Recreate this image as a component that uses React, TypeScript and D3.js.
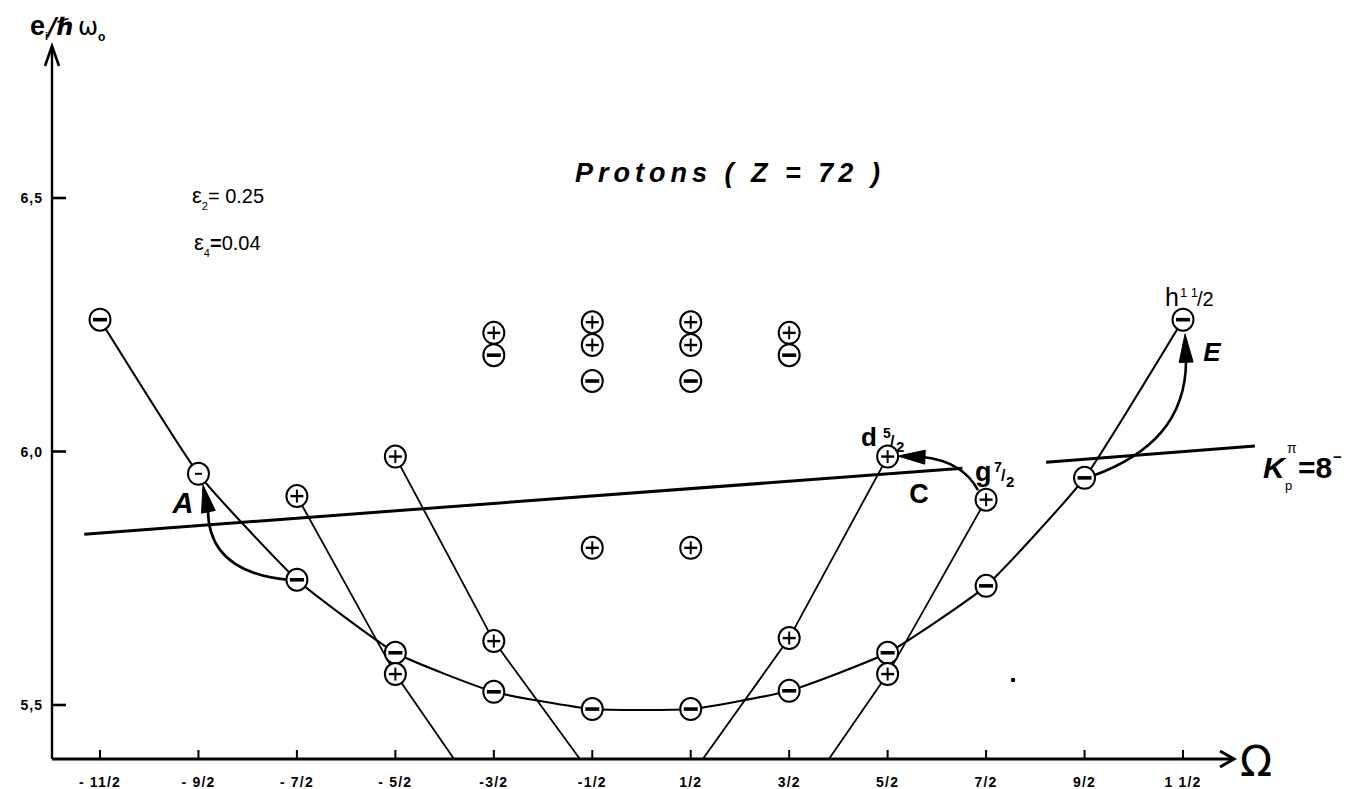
import React from "react";
import * as d3 from "d3";

// Ω ticks along the horizontal axis
const omegaTicks = [-5.5, -4.5, -3.5, -2.5, -1.5, -0.5, 0.5, 1.5, 2.5, 3.5, 4.5, 5.5];
const omegaTickLabels = ["- 11/2", "- 9/2", "- 7/2", "- 5/2", "-3/2", "-1/2", "1/2", "3/2", "5/2", "7/2", "9/2", "1 1/2"];

// energy ticks (units of ħω₀)
const energyTicks = [5.5, 6.0, 6.5];
const energyTickLabels = ["5,5", "6,0", "6,5"];

// h11/2 band, Ω = -11/2 … 11/2
const h112Omega = [-5.5, -4.5, -3.5, -2.5, -1.5, -0.5, 0.5, 1.5, 2.5, 3.5, 4.5, 5.5];
const h112Energy = [6.26, 5.956, 5.747, 5.603, 5.526, 5.492, 5.492, 5.528, 5.603, 5.735, 5.948, 6.26];
const h112Parity = ["-", "m", "-", "-", "-", "-", "-", "-", "-", "-", "-", "-"];

// g7/2 band, both signs of Ω (last point runs below the axis)
const g72LeftOmega = [-3.5, -2.5, -1.5];
const g72LeftEnergy = [5.912, 5.561, 5.28];
const g72RightOmega = [3.5, 2.5, 1.5];
const g72RightEnergy = [5.905, 5.561, 5.28];

// d5/2 band, both signs of Ω
const d52LeftOmega = [-2.5, -1.5, -0.5];
const d52LeftEnergy = [5.99, 5.626, 5.36];
const d52RightOmega = [2.5, 1.5, 0.5];
const d52RightEnergy = [5.99, 5.632, 5.36];

// levels drawn without connecting lines
const looseOmega = [-1.5, -1.5, -0.5, -0.5, -0.5, -0.5, 0.5, 0.5, 0.5, 0.5, 1.5, 1.5];
const looseEnergy = [6.234, 6.19, 6.255, 6.21, 6.139, 5.81, 6.255, 6.21, 6.139, 5.81, 6.234, 6.19];
const looseParity = ["+", "-", "+", "+", "-", "+", "+", "+", "-", "+", "+", "-"];

// K_p^π = 8⁻ line, drawn in two pieces around the g7/2 label
const kLineOmega = [[-5.66, 3.26], [4.11, 6.23]];
const kLineEnergy = [[5.837, 5.967], [5.979, 6.011]];

// curved transition arrows: cubic control points [Ω, e] and arrow tip
const arrowNames = ["A", "C", "E"];
const arrowPaths = [
  [[-3.591, 5.747], [-4.078, 5.756], [-4.403, 5.796], [-4.403, 5.885], [-4.454, 5.934]],
  [[3.418, 5.924], [3.316, 5.96], [3.133, 5.983], [2.859, 5.989], [2.605, 5.991]],
  [[4.586, 5.952], [5.165, 5.993], [5.531, 6.062], [5.531, 6.18], [5.521, 6.232]],
];

const W = 1351;
const H = 789;
const axisX = 52;
const axisY = 759;

const x = d3.scaleLinear().domain([-5.5, 5.5]).range([100, 1183]);
const y = d3.scaleLinear().domain([5.5, 6.5]).range([705, 198]);
const eFloor = y.invert(axisY);

const FONT = "'Liberation Sans', Arial, sans-serif";

function Marker({ cx, cy, sign }: { cx: number; cy: number; sign: string }) {
  return (
    <g transform={`translate(${cx},${cy})`}>
      <ellipse rx={10.5} ry={11} fill="#fff" stroke="#000" strokeWidth={2} />
      {sign === "+" && (
        <>
          <line x1={-6.5} x2={6.5} y1={0} y2={0} stroke="#000" strokeWidth={2.4} />
          <line x1={0} x2={0} y1={-6.5} y2={6.5} stroke="#000" strokeWidth={2} />
        </>
      )}
      {sign === "-" && <line x1={-7} x2={7} y1={0} y2={0} stroke="#000" strokeWidth={3.6} />}
      {sign === "m" && <line x1={-3.5} x2={3.5} y1={0} y2={0} stroke="#000" strokeWidth={2} />}
    </g>
  );
}

function Arrow({ pts }: { pts: number[][] }) {
  const p = pts.map(([o, e]) => [x(o), y(e)]);
  const [p0, p1, p2, p3, tip] = p;
  const d = `M${p0[0]},${p0[1]} C${p1[0]},${p1[1]} ${p2[0]},${p2[1]} ${p3[0]},${p3[1]}`;
  const dx = tip[0] - p3[0];
  const dy = tip[1] - p3[1];
  const len = Math.hypot(dx, dy);
  const ux = dx / len;
  const uy = dy / len;
  const half = 7;
  const bx = p3[0] - ux * 2;
  const by = p3[1] - uy * 2;
  const head = `M${tip[0]},${tip[1]} L${bx - uy * half},${by + ux * half} L${bx + uy * half},${by - ux * half} Z`;
  return (
    <g>
      <path d={d} fill="none" stroke="#000" strokeWidth={2.6} />
      <path d={head} fill="#000" stroke="#000" strokeWidth={1} strokeLinejoin="round" />
    </g>
  );
}

export default function App() {
  const straight = d3
    .line<number[]>()
    .x((d) => x(d[0]))
    .y((d) => y(d[1]));
  const smooth = d3
    .line<number[]>()
    .x((d) => x(d[0]))
    .y((d) => y(d[1]))
    .curve(d3.curveCardinal.tension(0.55));

  const zip = (a: number[], b: number[]) => a.map((v, i) => [v, b[i]]);
  const h112 = zip(h112Omega, h112Energy);
  const sideBands = [
    zip(g72LeftOmega, g72LeftEnergy),
    zip(g72RightOmega, g72RightEnergy),
    zip(d52LeftOmega, d52LeftEnergy),
    zip(d52RightOmega, d52RightEnergy),
  ];

  return (
    <svg
      width={W}
      height={H}
      viewBox={`0 0 ${W} ${H}`}
      style={{ position: "absolute", left: 0, top: 0, background: "#fff" }}
      fontFamily={FONT}
    >
      <defs>
        <clipPath id="plotArea">
          <rect x={axisX} y={0} width={W - axisX} height={axisY - 1} />
        </clipPath>
      </defs>
      <rect x={0} y={0} width={W} height={H} fill="#fff" />

      {/* title and deformation parameters */}
      <text x={730} y={182} textAnchor="middle" fontSize={27} fontStyle="italic" fontWeight={700} letterSpacing={5}>
        Protons ( Z = 72 )
      </text>
      <text x={192} y={203} fontSize={20}>
        <tspan fontSize={22}>ε</tspan>
        <tspan fontSize={11} dy={7}>2</tspan>
        <tspan dy={-7}>= 0.25</tspan>
      </text>
      <text x={194} y={250} fontSize={20}>
        <tspan fontSize={22}>ε</tspan>
        <tspan fontSize={11} dy={7}>4</tspan>
        <tspan dy={-7} fontWeight={700}>=</tspan>
        <tspan>0.04</tspan>
      </text>

      {/* axes */}
      <line x1={axisX} x2={axisX} y1={axisY} y2={47} stroke="#000" strokeWidth={2.4} />
      <polyline points={`${axisX - 7},${66} ${axisX},${46} ${axisX + 7},${66}`} fill="none" stroke="#000" strokeWidth={2.6} />
      <line x1={axisX} x2={1232} y1={axisY} y2={axisY} stroke="#000" strokeWidth={3.2} />
      <polyline points={`${1220},${751} ${1234},${axisY} ${1220},${767}`} fill="none" stroke="#000" strokeWidth={3} />
      <text x={1240} y={776} fontSize={42} fontFamily="'DejaVu Sans', sans-serif">Ω</text>

      {energyTicks.map((t, i) => (
        <g key={t}>
          <line x1={axisX} x2={axisX + 14} y1={y(t)} y2={y(t)} stroke="#000" strokeWidth={2.6} />
          <text x={axisX - 9} y={y(t) + 5} textAnchor="end" fontSize={14} fontWeight={700} letterSpacing={1}>
            {energyTickLabels[i]}
          </text>
        </g>
      ))}
      {omegaTicks.map((t, i) => (
        <g key={t}>
          <line x1={x(t)} x2={x(t)} y1={axisY} y2={axisY - 9} stroke="#000" strokeWidth={2} />
          <text x={x(t)} y={787} textAnchor="middle" fontSize={14} fontWeight={700} letterSpacing={1.2}>
            {omegaTickLabels[i]}
          </text>
        </g>
      ))}

      <text x={30} y={35} fontSize={27} fontWeight={700}>
        e
        <tspan fontSize={11} dy={5}>i</tspan>
        <tspan dy={-5} fontFamily="'DejaVu Sans', sans-serif" fontSize={24} fontStyle="italic">/ℏ</tspan>
        <tspan dx={4} fontFamily="'DejaVu Sans', sans-serif" fontSize={24} fontWeight={400}>ω</tspan>
        <tspan fontSize={12} dy={6}>o</tspan>
      </text>

      {/* level lines */}
      <g clipPath="url(#plotArea)" fill="none" stroke="#000">
        <path d={smooth(h112) || ""} strokeWidth={2.1} />
        {sideBands.map((b, i) => (
          <path key={i} d={straight(b) || ""} strokeWidth={1.8} />
        ))}
        {kLineOmega.map((o, i) => (
          <path key={`k${i}`} d={straight(zip(o, kLineEnergy[i])) || ""} strokeWidth={3} />
        ))}
      </g>

      {/* transition arrows */}
      {arrowPaths.map((pts, i) => (
        <Arrow key={arrowNames[i]} pts={pts} />
      ))}

      {/* level markers */}
      {h112.map((d, i) => (
        <Marker key={`h${i}`} cx={x(d[0])} cy={y(d[1])} sign={h112Parity[i]} />
      ))}
      {sideBands.flatMap((b, j) =>
        b
          .filter((d) => d[1] > eFloor)
          .map((d, i) => <Marker key={`s${j}-${i}`} cx={x(d[0])} cy={y(d[1])} sign="+" />)
      )}
      {looseOmega.map((o, i) => (
        <Marker key={`l${i}`} cx={x(o)} cy={y(looseEnergy[i])} sign={looseParity[i]} />
      ))}

      {/* labels */}
      <text x={183} y={513} textAnchor="middle" fontSize={29} fontWeight={700} fontStyle="italic">A</text>
      <text x={919} y={503} textAnchor="middle" fontSize={27} fontWeight={700}>C</text>
      <text x={1212} y={361} textAnchor="middle" fontSize={26} fontWeight={700} fontStyle="italic">E</text>

      {/* orbital names with slanted fractions */}
      <g fontWeight={700}>
        <text x={861} y={446} fontSize={26}>d</text>
        <text x={883} y={438} fontSize={14}>5</text>
        <text x={890} y={447} fontSize={16}>/</text>
        <text x={896} y={452} fontSize={15}>2</text>

        <text x={975} y={481} fontSize={27}>g</text>
        <text x={994} y={472} fontSize={14}>7</text>
        <text x={1001} y={481} fontSize={16}>/</text>
        <text x={1006} y={487} fontSize={15}>2</text>
      </g>
      <text x={1165} y={306} fontSize={25}>h</text>
      <text x={1180} y={297} fontSize={13}>1 1</text>
      <text x={1197} y={306} fontSize={20}>/2</text>

      <g fontWeight={700}>
        <text x={1263} y={478} fontSize={30} fontStyle="italic">K</text>
        <text x={1285} y={490} fontSize={13} fontWeight={400}>p</text>
        <text x={1287} y={453} fontSize={14} fontWeight={400}>π</text>
        <text x={1298} y={478} fontSize={30}>=8</text>
        <text x={1333} y={462} fontSize={15}>−</text>
      </g>

      {/* speck on the sheet */}
      <circle cx={1013} cy={680} r={2.2} fill="#000" />
    </svg>
  );
}
